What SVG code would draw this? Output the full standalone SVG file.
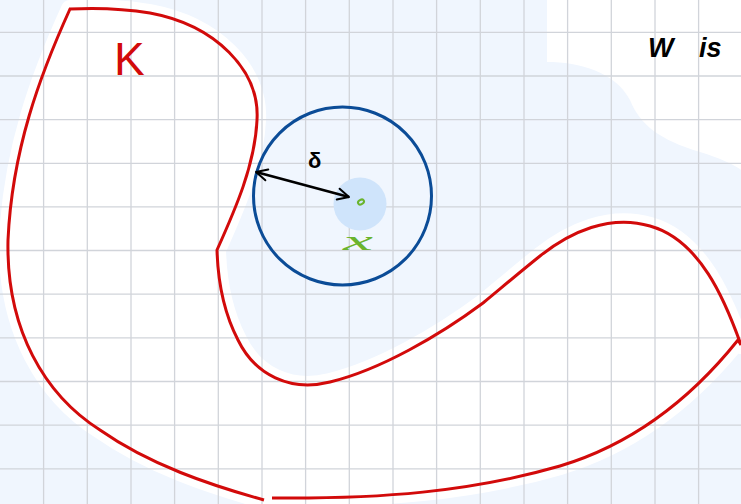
<svg xmlns="http://www.w3.org/2000/svg" width="741" height="504" viewBox="0 0 741 504">
<style>
.grid line{stroke:#d1d4da;stroke-width:1.3}
.red{fill:none;stroke:#d20a0a;stroke-width:3;stroke-linejoin:miter;stroke-linecap:butt}
.hand{font-family:"Liberation Sans","DejaVu Sans",sans-serif}
</style>
<defs>
<marker id="ah" viewBox="0 0 10 10" refX="9" refY="5" markerWidth="5" markerHeight="5" orient="auto-start-reverse" markerUnits="strokeWidth">
<path d="M1,1 L9,5 L1,9" fill="none" stroke="#000" stroke-width="1.4" stroke-linecap="round" stroke-linejoin="round"/>
</marker>
</defs>
<g id="background">
<rect x="0" y="0" width="741" height="504" fill="#f0f6fe"/>
<path d="M547,0 L547,62 C580,62 615,72 630,100 C640,125 660,140 700,152 C720,158 735,165 741,170 L741,0 Z" fill="#ffffff"/>
<path d="M70,9 C40,75 12,150 8,240 C6,330 45,395 100,430 C150,465 210,485 264,500 L272,498 C380,499 470,492 560,466 C630,445 690,400 738,340 L741,345 C725,300 700,240 650,226 C610,214 570,232 540,256 C520,272 500,289 483,303 C440,335 380,370 330,382 C290,392 255,375 238,340 C225,315 218,285 217,250 C235,210 255,165 257,120 C260,70 215,25 150,13 C120,8 90,8 70,9 Z" fill="#ffffff" stroke="#ffffff" stroke-width="18" stroke-linejoin="round"/>
</g>
<g class="grid" id="grid">
<line x1="43.6" y1="0" x2="43.6" y2="504"/><line x1="87.3" y1="0" x2="87.3" y2="504"/><line x1="131" y1="0" x2="131" y2="504"/><line x1="174.6" y1="0" x2="174.6" y2="504"/><line x1="218.3" y1="0" x2="218.3" y2="504"/><line x1="262" y1="0" x2="262" y2="504"/><line x1="305.6" y1="0" x2="305.6" y2="504"/><line x1="349.3" y1="0" x2="349.3" y2="504"/><line x1="393" y1="0" x2="393" y2="504"/><line x1="436.6" y1="0" x2="436.6" y2="504"/><line x1="480.3" y1="0" x2="480.3" y2="504"/><line x1="524" y1="0" x2="524" y2="504"/><line x1="567.6" y1="0" x2="567.6" y2="504"/><line x1="611.3" y1="0" x2="611.3" y2="504"/><line x1="655" y1="0" x2="655" y2="504"/><line x1="698.6" y1="0" x2="698.6" y2="504"/>
<line x1="0" y1="32.3" x2="741" y2="32.3"/><line x1="0" y1="76" x2="741" y2="76"/><line x1="0" y1="119.6" x2="741" y2="119.6"/><line x1="0" y1="163.3" x2="741" y2="163.3"/><line x1="0" y1="206.9" x2="741" y2="206.9"/><line x1="0" y1="250.5" x2="741" y2="250.5"/><line x1="0" y1="294.2" x2="741" y2="294.2"/><line x1="0" y1="337.8" x2="741" y2="337.8"/><line x1="0" y1="381.5" x2="741" y2="381.5"/><line x1="0" y1="425.1" x2="741" y2="425.1"/><line x1="0" y1="468.8" x2="741" y2="468.8"/>
</g>
<g id="K">
<path class="red" d="M272,498 C380,499 470,492 560,466 C630,445 690,400 738,340 L741,345 M741,345 C725,300 700,240 650,226 C610,214 570,232 540,256 C520,272 500,289 483,303 C440,335 380,370 330,382 C290,392 255,375 238,340 C225,315 218,285 217,250 C235,210 255,165 257,120 C260,70 215,25 150,13 C120,8 90,8 70,9 C40,75 12,150 8,240 C6,330 45,395 100,430 C150,465 210,485 264,500"/>
<text class="hand" x="114" y="75" font-size="46" fill="#d20a0a">K</text>
</g>
<g id="neighbourhood">
<circle cx="342.5" cy="196" r="89" fill="none" stroke="#0b4c97" stroke-width="3"/>
<circle cx="360" cy="204" r="26.5" fill="#cfe4fb"/>
<ellipse cx="361" cy="202" rx="3.2" ry="2.2" transform="rotate(-30 361 202)" fill="none" stroke="#6ab42d" stroke-width="2"/>
<text x="343" y="250" font-family="Liberation Serif,serif" font-style="italic" font-size="28" fill="#6ab42d" textLength="30" lengthAdjust="spacingAndGlyphs">x</text>
</g>
<g id="connectors">
<line x1="256" y1="172" x2="349" y2="197" stroke="#000" stroke-width="2.8" marker-start="url(#ah)" marker-end="url(#ah)"/>
<text class="hand" x="308" y="168" font-size="22" font-weight="bold" fill="#000">δ</text>
</g>
<g id="label-W">
<text class="hand" x="648" y="57" font-size="27" font-weight="bold" font-style="italic" word-spacing="18" fill="#000">W is</text>
</g>
</svg>
